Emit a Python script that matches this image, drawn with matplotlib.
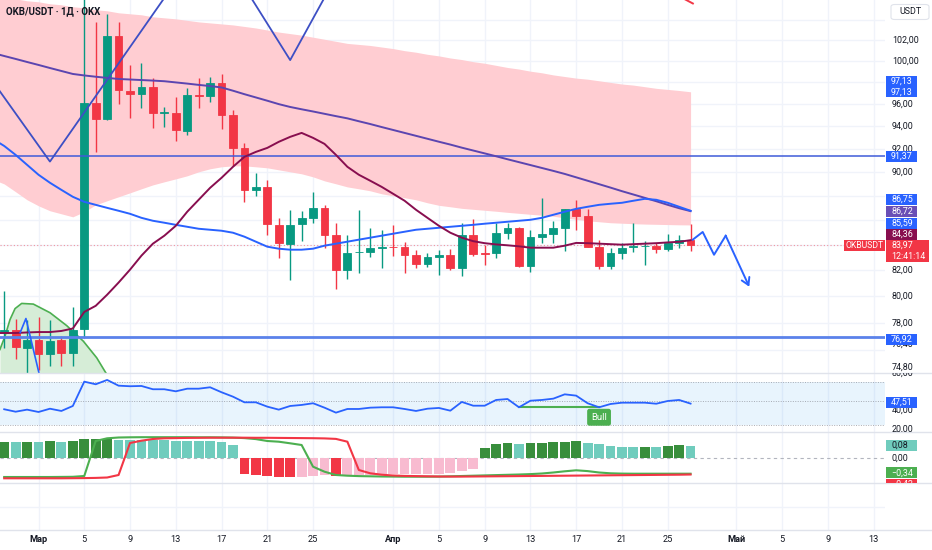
import numpy as np
import matplotlib
matplotlib.use("Agg")
import matplotlib.pyplot as plt
from matplotlib.patches import Rectangle, FancyBboxPatch
from matplotlib.transforms import Bbox
from matplotlib.ticker import NullLocator
from matplotlib.lines import Line2D

plt.rcParams['font.family'] = ['Roboto', 'DejaVu Sans']

# ---------------- data ----------------
# day index: 0 = 1 March
candle_day = list(range(-3, 58))
opens = [77.24, 77.46, 76.17, 76.73, 75.70, 76.73, 75.81, 77.51, 96.13, 94.63,
         102.42, 97.24, 96.90, 97.55, 95.17, 95.22, 93.61, 96.84, 96.78, 97.97,
         95.02, 92.11, 88.48, 88.76, 85.60, 84.06, 85.67, 86.13, 86.96, 84.78,
         81.98, 83.40, 83.40, 83.77, 83.85, 83.85, 83.18, 82.45, 83.05, 83.18,
         82.14, 84.78, 83.30, 83.30, 84.96, 85.37, 82.32, 84.65, 84.86, 85.37,
         86.87, 86.33, 83.80, 82.34, 83.32, 83.80, 83.87, 83.90, 83.64, 84.16, 84.37]
highs = [80.41, 78.28, 78.20, 78.45, 78.20, 77.02, 79.18, 106.50, 103.82, 104.58,
         103.82, 99.63, 99.79, 98.38, 95.71, 96.68, 97.47, 98.38, 98.53, 98.79,
         95.47, 92.55, 89.94, 89.32, 86.13, 86.80, 86.75, 88.28, 87.23, 85.75,
         84.78, 86.80, 85.37, 85.18, 85.60, 84.24, 83.58, 83.32, 83.58, 83.64,
         85.73, 86.05, 83.98, 85.73, 85.78, 85.45, 85.18, 87.80, 85.94, 86.93,
         87.65, 86.88, 84.37, 83.72, 84.11, 85.78, 84.32, 84.16, 84.86, 84.78, 85.66]
lows = [76.15, 75.36, 74.36, 74.60, 74.85, 74.85, 74.85, 76.88, 91.76, 94.57,
        96.01, 94.72, 95.62, 93.88, 93.91, 92.73, 93.23, 95.62, 96.22, 93.73,
        90.52, 87.50, 87.98, 84.78, 82.93, 81.24, 84.32, 85.77, 83.72, 80.54,
        81.29, 81.75, 83.01, 82.14, 83.10, 81.75, 82.14, 82.22, 81.62, 82.00,
        81.57, 83.10, 82.40, 82.98, 84.43, 82.22, 81.88, 84.11, 84.11, 83.53,
        85.22, 83.80, 82.06, 82.06, 82.88, 83.45, 82.40, 83.37, 83.53, 83.72, 83.53]
closes = [77.46, 76.22, 76.73, 75.72, 76.68, 75.81, 77.46, 96.13, 94.63, 102.42,
          97.30, 96.90, 97.55, 95.17, 95.25, 93.67, 96.84, 96.78, 97.97, 95.02,
          92.11, 88.48, 88.71, 85.67, 84.11, 85.60, 86.13, 86.96, 84.78, 81.98,
          83.32, 83.45, 83.77, 83.85, 83.80, 83.18, 82.45, 83.00, 83.16, 82.14,
          84.78, 83.27, 83.25, 84.92, 85.32, 82.32, 84.59, 84.84, 85.32, 86.87,
          86.33, 83.85, 82.34, 83.32, 83.77, 83.87, 83.90, 83.64, 84.16, 84.37, 83.97]

line_day = list(range(-4, 58))
band_upper = [106.6, 106.3, 106.1, 105.9, 105.8, 105.6, 105.5, 105.3, 105.2, 105.0,
              104.9, 104.7, 104.6, 104.5, 104.3, 104.2, 104.1, 103.95, 103.8, 103.7,
              103.6, 103.5, 103.35, 103.2, 103.0, 102.8, 102.65, 102.5, 102.3, 102.1,
              101.9, 101.7, 101.6, 101.5, 101.35, 101.2, 101.0, 100.85, 100.65, 100.5,
              100.3, 100.15, 99.95, 99.8, 99.6, 99.4, 99.25, 99.05, 98.9, 98.7,
              98.55, 98.4, 98.3, 98.15, 98.0, 97.85, 97.75, 97.6, 97.45, 97.35, 97.25, 97.13]
band_lower = [89.38, 88.99, 88.33, 87.66, 87.16, 86.75, 86.50, 86.25, 86.67, 87.24,
              87.58, 87.91, 88.24, 88.58, 88.91, 89.17, 89.42, 89.68, 90.02, 90.28,
              90.45, 90.53, 90.53, 90.45, 90.36, 90.19, 90.02, 89.85, 89.59, 89.25,
              89.00, 88.74, 88.58, 88.41, 88.16, 87.99, 87.83, 87.66, 87.41, 87.20,
              87.08, 86.95, 86.87, 86.79, 86.71, 86.62, 86.54, 86.46, 86.38, 86.30,
              86.17, 86.05, 85.93, 85.85, 85.77, 85.73, 85.69, 85.66, 85.64, 85.62, 85.60, 85.59]
ma_purple = [100.78, 100.49, 100.21, 99.92, 99.64, 99.35, 99.07, 98.79, 98.65, 98.53,
             98.42, 98.32, 98.27, 98.22, 98.17, 98.11, 98.00, 97.89, 97.77, 97.66,
             97.53, 97.23, 96.91, 96.61, 96.31, 96.00, 95.74, 95.53, 95.33, 95.12,
             94.91, 94.71, 94.45, 94.20, 93.93, 93.67, 93.41, 93.15, 92.89, 92.63,
             92.38, 92.11, 91.86, 91.61, 91.36, 91.10, 90.85, 90.60, 90.35, 90.10,
             89.84, 89.55, 89.26, 88.97, 88.68, 88.38, 88.10, 87.82, 87.54, 87.24, 86.96, 86.72]
ma_blue = [92.88, 92.26, 91.48, 90.62, 89.77, 89.09, 88.49, 87.91, 87.49, 87.24,
           86.99, 86.75, 86.50, 86.17, 85.93, 85.77, 85.60, 85.44, 85.28, 85.20,
           85.12, 84.96, 84.64, 84.24, 83.84, 83.68, 83.60, 83.60, 83.68, 83.92,
           84.08, 84.24, 84.40, 84.56, 84.72, 84.88, 85.04, 85.20, 85.28, 85.36,
           85.44, 85.52, 85.60, 85.69, 85.77, 85.85, 85.93, 86.01, 86.17, 86.42,
           86.67, 86.91, 87.08, 87.24, 87.33, 87.41, 87.58, 87.74, 87.66, 87.41, 87.08, 86.75]
ma_maroon = [77.24, 77.24, 77.24, 77.28, 77.31, 77.31, 77.39, 77.57, 78.80, 79.26,
             80.10, 81.03, 82.03, 83.13, 84.08, 84.72, 85.52, 86.67, 87.66, 88.66,
             89.51, 90.45, 91.31, 91.74, 92.09, 92.62, 93.06, 93.41, 92.97, 92.44,
             91.48, 90.45, 89.77, 89.26, 88.74, 88.16, 87.58, 86.83, 86.17, 85.52,
             84.96, 84.56, 84.28, 84.12, 84.02, 83.95, 83.87, 83.76, 83.76, 83.76,
             83.92, 84.14, 84.12, 84.08, 84.04, 84.00, 84.04, 84.08, 84.12, 84.18, 84.23, 84.36]

zigzag_day = [-4, 1, 15, 22, 27]
zigzag_price = [98.1, 90.9, 113.0, 100.1, 110.5]
small_zz_day = [-1.6, -1.1, 0.57]
small_zz_price = [77.27, 78.31, 72.6]
proj_day = [57.19, 58.06, 59.05, 60.07, 62.13]
proj_price = [84.40, 85.02, 83.20, 84.72, 80.71]
red_seg_day = [56.1, 57.2]
red_seg_price = [106.3, 105.63]
parab_day = [-3.37, -2.93, -2.49, -2.05, -1.47, -0.45, 1.01, 2.47, 3.92, 5.09, 5.81, 6.25]
parab_price = [76.04, 77.00, 78.23, 79.05, 79.44, 79.39, 78.74, 77.78, 76.64, 75.44, 74.47, 73.91]

level_high = 91.37
level_low = 76.92
last_price = 83.97
countdown = '12:41:14'

rsi = [41.5, 38.9, 41.1, 38.6, 42.1, 39.7, 45.0, 70.9, 68.1, 72.7, 66.6, 66.0, 66.3, 62.8,
       62.8, 60.6, 63.4, 63.4, 64.9, 59.6, 54.9, 48.9, 48.9, 44.3, 41.1, 45.0, 46.1, 47.9,
       43.2, 37.9, 41.8, 41.8, 43.2, 43.6, 43.6, 41.8, 39.7, 42.1, 42.9, 40.0, 49.3, 45.3,
       45.3, 51.4, 52.4, 43.6, 50.6, 51.4, 52.8, 57.4, 56.0, 47.9, 43.6, 47.1, 48.5, 48.5,
       48.5, 47.4, 50.3, 51.4, 47.51]
rsi_bands = [70, 50, 25]
bull_day = [42, 49]
bull_rsi = [43.6, 43.6]

macd_hist = [0.104, 0.103, 0.105, 0.104, 0.106, 0.105, 0.107, 0.122, 0.124, 0.125, 0.118,
             0.116, 0.115, 0.114, 0.113, 0.112, 0.111, 0.110, 0.109, 0.104, 0.083,
             -0.103, -0.109, -0.115, -0.119, -0.121, -0.120, -0.116, -0.112, -0.117,
             -0.110, -0.108, -0.107, -0.106, -0.105, -0.104, -0.103, -0.102, -0.101,
             -0.098, -0.083, -0.072, 0.062, 0.090, 0.098, 0.090, 0.098, 0.099, 0.103,
             0.104, 0.107, 0.098, 0.088, 0.077, 0.073, 0.072, 0.073, 0.069, 0.077, 0.083, 0.080]
line_green = [-0.67, -0.67, -0.67, -0.67, -0.67, -0.66, -0.65, -0.57, 2.93, 3.20,
              3.28, 3.30, 3.31, 3.31, 3.31, 3.31, 3.31, 3.30, 3.30, 3.29,
              3.27, 3.22, 3.12, 2.93, 2.86, 2.70, 2.53, 0.36, -0.14, -0.47, -0.54,
              -0.58, -0.60, -0.62, -0.63, -0.64, -0.64, -0.64, -0.63,
              -0.60, -0.57, -0.54, -0.51, -0.48, -0.45, -0.42, -0.38, -0.32, -0.22, -0.10, 0.00,
              -0.08, -0.22, -0.30, -0.33, -0.34, -0.34, -0.34, -0.34, -0.34, -0.34]
line_red = [-0.80, -0.80, -0.80, -0.80, -0.80, -0.80, -0.79, -0.78, -0.76, -0.72, -0.47,
            2.73, 2.96, 3.13, 3.20, 3.22, 3.24, 3.25, 3.26, 3.26, 3.26, 3.26, 3.25, 3.25,
            3.24, 3.23, 3.22, 3.21, 3.19, 3.14, 2.86, 0.03, -0.30, -0.44, -0.52,
            -0.56, -0.58, -0.60, -0.62, -0.63, -0.63, -0.62, -0.61, -0.60, -0.59, -0.58,
            -0.57, -0.56, -0.55, -0.54, -0.53, -0.52, -0.51, -0.50, -0.49, -0.48, -0.47,
            -0.46, -0.45, -0.44, -0.42]

tick_days = [0, 4, 8, 12, 16, 20, 24, 31, 35, 39, 43, 47, 51, 55, 61, 65, 69, 73]
tick_labels = ['Мар', '5', '9', '13', '17', '21', '25', 'Апр', '5', '9', '13', '17',
               '21', '25', 'Май', '5', '9', '13']
month_labels = {'Мар', 'Апр', 'Май'}
price_grid = list(range(76, 106, 2))
price_axis_labels = [102, 100, 96, 94, 92, 90, 82, 80, 78, 76.40, 74.80]
rsi_axis_labels = [80, 40, 20]

# ---------------- style / layout ----------------
W, H = 932, 550
PLOT_RIGHT = 885
X0_PX, DAY_PX = 38.5, 11.44
XMIN = -X0_PX / DAY_PX
XMAX = (PLOT_RIGHT - X0_PX) / DAY_PX
UP, DOWN = '#089981', '#F23645'
GRID = '#F0F3FA'
TXT = '#131722'
BLUE = '#2962FF'
FS = 6.4

fig = plt.figure(figsize=(W / 100, H / 100), dpi=100)
fig.patch.set_facecolor('white')


def make_pane(top, bottom):
    a = fig.add_axes([0, 1 - bottom / H, PLOT_RIGHT / W, (bottom - top) / H])
    a.set_facecolor('white')
    for s in a.spines.values():
        s.set_visible(False)
    a.set_xlim(XMIN, XMAX)
    for d in tick_days:
        a.axvline(d, color=GRID, lw=1, zorder=0)
    return a


def hide_ticks(a):
    a.set_xticks([])
    a.set_yticks([])
    a.yaxis.set_minor_locator(NullLocator())
    a.tick_params(left=False, bottom=False, labelleft=False, labelbottom=False)


# ---- main pane ----
ax = make_pane(0, 373)
ax.set_yscale('log')
ax.set_ylim(74.36, 105.98)
hide_ticks(ax)
ax.set_xlim(XMIN, XMAX)
for p in price_grid:
    ax.axhline(p, color=GRID, lw=1, zorder=0)

ax.fill_between(line_day, band_lower, band_upper, color='#FFCDD2', lw=0, zorder=1)
ax.fill_between(parab_day, parab_price, 60, color='#D6EDD7', lw=0, zorder=1.5)
ax.plot(parab_day, parab_price, color='#4CAF50', lw=1.2, zorder=1.6)

o = np.array(opens); c = np.array(closes)
cols = np.where(c >= o, UP, DOWN)
ax.vlines(candle_day, lows, highs, colors=cols, lw=1, zorder=4)
ax.bar(candle_day, np.abs(c - o), bottom=np.minimum(o, c), width=0.68,
       color=cols, edgecolor=cols, linewidth=0.6, zorder=5)

ax.axhline(level_high, color='#3F5BD9', lw=1.1, zorder=6)
ax.axhline(level_low, color='#5B82EA', lw=2.0, zorder=6)
ax.axhline(last_price, color=DOWN, lw=0.8, ls=(0, (1, 2)), alpha=0.5, zorder=3)

ax.plot(line_day, ma_purple, color='#5B45B0', lw=1.4, zorder=7)
ax.plot(line_day, ma_blue, color='#2962FF', lw=1.4, zorder=7)
ax.plot(line_day, ma_maroon, color='#880E4F', lw=1.4, zorder=7)
ax.plot(zigzag_day, zigzag_price, color='#3D4FC4', lw=1.3, zorder=7)
ax.plot(small_zz_day, small_zz_price, color='#2962FF', lw=1.2, zorder=7)
ax.plot(red_seg_day, red_seg_price, color=DOWN, lw=1.4, zorder=7)
ax.plot(proj_day[:-1], proj_price[:-1], color=BLUE, lw=1.4, zorder=7)
ax.annotate('', xy=(proj_day[-1], proj_price[-1]), xytext=(proj_day[-2], proj_price[-2]),
            arrowprops=dict(arrowstyle='->,head_length=0.5,head_width=0.3', color=BLUE, lw=1.4,
                            shrinkA=0, shrinkB=0), zorder=7)

fig.text(6 / W, 1 - 11.5 / H, 'OKB/USDT · 1Д · OKX', fontsize=7, fontweight='bold',
         color=TXT, va='center', ha='left', zorder=10)

# ---- RSI pane ----
ax_rsi = make_pane(373, 432)
hide_ticks(ax_rsi)
ax_rsi.set_ylim(17.3, 80.1)
ax_rsi.axhspan(rsi_bands[2], rsi_bands[0], color='#2196F3', alpha=0.1, lw=0, zorder=1)
for lv in rsi_bands:
    ax_rsi.axhline(lv, color='#9598A1', lw=0.7, ls=(0, (1, 1.5)), alpha=0.8, zorder=2)
ax_rsi.plot(candle_day, rsi, color=BLUE, lw=1.3, zorder=4)
ax_rsi.plot(bull_day, bull_rsi, color='#4CAF50', lw=1.5, zorder=3)
ax_rsi.text(bull_day[1], 33.0, 'Bull', ha='center', va='center', fontsize=6.8, color='white',
            zorder=5, bbox=dict(boxstyle='round,pad=0.42,rounding_size=0.25', fc='#4CAF50', ec='none'))

# ---- MACD pane ----
ax_macd = make_pane(432, 483)
hide_ticks(ax_macd)
ax_macd.set_ylim(-0.1603, 0.1667)
hist_cols = []
prev = None
for v in macd_hist:
    rising = True if prev is None else v >= prev
    if v >= 0:
        hist_cols.append('#388E3C' if rising else '#70CCBD')
    else:
        hist_cols.append('#F8BBD0' if rising else '#F23645')
    prev = v
ax_macd.bar(candle_day, macd_hist, width=0.86, color=hist_cols, lw=0, zorder=2)
ax_macd.axhline(0, color='#B2B5BE', lw=0.8, ls=(0, (3, 3)), zorder=1)
ax_ml = ax_macd.twinx()
for s in ax_ml.spines.values():
    s.set_visible(False)
ax_ml.set_xlim(XMIN, XMAX)
ax_ml.set_ylim(-1.27, 3.83)
hide_ticks(ax_ml)
ax_ml.tick_params(right=False, labelright=False)
ax_ml.plot(candle_day, line_green, color='#4CAF50', lw=1.5, zorder=3)
ax_ml.plot(candle_day, line_red, color='#F23645', lw=1.5, zorder=4)

# ---- empty lower pane ----
ax_low = make_pane(483, 530)
hide_ticks(ax_low)
ax_low.set_ylim(0, 1)
ax_low.axhline(0.49, color=GRID, lw=1, zorder=0)

# pane separators
for ypx in (373, 432, 483, 530):
    fig.add_artist(Line2D([0, 1], [1 - ypx / H] * 2, color='#E0E3EB', lw=1,
                          transform=fig.transFigure, zorder=2))


# ---------------- axis labels ----------------
def fmt(v):
    return f"{v:.2f}".replace('.', ',').replace('-', '−')


def ypix(axis, value):
    return axis.transData.transform((0, value))[1]


def clip_bbox(top, bottom):
    return Bbox.from_extents(0, H - bottom, W, H - top)


def plain(axis, value, text, clip=None):
    t = fig.text(892 / W, ypix(axis, value) / H, text, fontsize=FS, color=TXT,
                 va='center', ha='left', zorder=2)
    if clip is not None:
        t.set_clip_box(clip)
        t.set_clip_on(True)


def tag(axis, value, fc, tc='white', dy=0.0, sub=None, clip=None, x0=886, x1=917):
    yc = ypix(axis, value) + dy
    h = 11
    n = 2 if sub else 1
    if sub:
        x1 = 929
    r = Rectangle((x0 / W, (yc + h / 2 - h * n) / H), (x1 - x0) / W, h * n / H,
                  transform=fig.transFigure, fc=fc, ec='none', zorder=4)
    fig.add_artist(r)
    items = [fig.text((x0 + 5) / W, yc / H, fmt(value), fontsize=FS, color=tc,
                      va='center', ha='left', zorder=5)]
    if sub:
        items.append(fig.text((x0 + 5) / W, (yc - h) / H, sub, fontsize=FS, color=tc,
                              va='center', ha='left', zorder=5))
    if clip is not None:
        r.set_clip_box(clip)
        for t in items:
            t.set_clip_box(clip)
            t.set_clip_on(True)


main_clip = clip_bbox(22, 373)
for v in price_axis_labels:
    plain(ax, v, fmt(v), clip=main_clip)
rsi_clip = clip_bbox(373, 432)
for v in rsi_axis_labels:
    plain(ax_rsi, v, fmt(v), clip=rsi_clip)
plain(ax_macd, 0, fmt(0))

tag(ax, band_upper[-1], BLUE, dy=10.5)
tag(ax, band_upper[-1], BLUE)
tag(ax, level_high, BLUE)
tag(ax, ma_blue[-1], BLUE, dy=11.5)
tag(ax, ma_purple[-1], '#6A4FB6', dy=-0.4)
tag(ax, band_lower[-1], BLUE, dy=1.8)
tag(ax, ma_maroon[-1], '#880E4F', dy=5.9)
tag(ax, last_price, DOWN, sub=countdown)
tag(ax, level_low, BLUE, dy=-2)
tag(ax_rsi, rsi[-1], BLUE, dy=1.5)
macd_clip = clip_bbox(432, 483)
tag(ax_macd, macd_hist[-1], '#70CCBD', tc=TXT, clip=macd_clip)
tag(ax_ml, line_green[-1], '#4CAF50', dy=1.0, clip=macd_clip)
tag(ax_ml, line_red[-1], '#F23645', dy=-9.5, clip=macd_clip)

# symbol label on price line
yl = ypix(ax, last_price)
fig.add_artist(Rectangle((844 / W, (yl - 5.5) / H), 41 / W, 11 / H, transform=fig.transFigure,
                         fc=DOWN, ec='none', zorder=4))
fig.text(864.5 / W, yl / H, 'OKBUSDT', fontsize=6.2, color='white', ha='center', va='center', zorder=5)

# currency box
fig.add_artist(FancyBboxPatch((891 / W, 1 - 19.5 / H), 38 / W, 15 / H,
                              boxstyle='round,pad=0,rounding_size=0.004',
                              transform=fig.transFigure, fc='white', ec='#E0E3EB', lw=0.8, zorder=4))
fig.text(910 / W, 1 - 12 / H, 'USDT', fontsize=FS, color=TXT, ha='center', va='center', zorder=5)

# time axis
for d, lab in zip(tick_days, tick_labels):
    xpx = ax.transData.transform((d, 80))[0]
    fig.text(xpx / W, 10 / H, lab, fontsize=6.6, color=TXT, ha='center', va='center',
             fontweight='bold' if lab in month_labels else 'normal', zorder=5)

fig.savefig('out.png', dpi=100, facecolor='white')
